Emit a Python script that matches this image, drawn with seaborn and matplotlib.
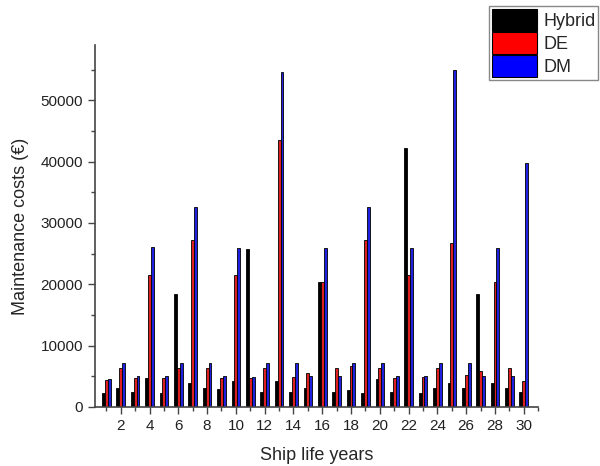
import pandas as pd
import numpy as np
import matplotlib
matplotlib.use("Agg")
import matplotlib.pyplot as plt
import seaborn as sns
from matplotlib.ticker import MultipleLocator

years = list(range(1, 31))
hybrid = [2230, 3040, 2390, 4670, 2230, 18400, 3900, 3040, 2930, 4180,
          25680, 2390, 4290, 2390, 3040, 20300, 2390, 2710, 2280, 4560,
          2390, 42230, 2280, 3040, 3900, 3040, 18400, 3900, 3040, 2340]
de = [4400, 6400, 4670, 21550, 4720, 6350, 27200, 6400, 4720, 21500,
      4670, 6400, 43500, 4940, 5590, 20300, 6400, 6680, 27200, 6400,
      4720, 21500, 4830, 6400, 26650, 5160, 5810, 20300, 6350, 4180]
dm = [4560, 7170, 5100, 26000, 5100, 7170, 32600, 7170, 5100, 25850,
      4940, 7170, 54600, 7170, 5100, 25950, 5100, 7170, 32600, 7170,
      5100, 25850, 4990, 7170, 55000, 7170, 5100, 25950, 5050, 39800]

df = pd.DataFrame({"year": years * 3,
                   "cost": hybrid + de + dm,
                   "type": ["Hybrid"] * 30 + ["DE"] * 30 + ["DM"] * 30})

sns.set_style("white")
plt.rcParams['font.family'] = ['Liberation Sans', 'DejaVu Sans']

fig = plt.figure(figsize=(6, 4.66), dpi=100)
ax = fig.add_axes([0.158, 0.127, 0.739, 0.776])
sns.barplot(data=df, x="year", y="cost", hue="type", native_scale=True,
            palette=["#000000", "#ff0000", "#0000ff"], width=0.6,
            edgecolor="black", linewidth=0.6, ax=ax, legend=False)

ax.set_xlim(0.2, 31)
ax.set_ylim(0, 59000)
ax.set_xticks(range(2, 31, 2))
ax.xaxis.set_minor_locator(MultipleLocator(1))
ax.yaxis.set_major_locator(MultipleLocator(10000))
ax.yaxis.set_minor_locator(MultipleLocator(5000))
ax.tick_params(which="both", direction="out", color="#444444", labelsize=11,
               labelcolor="#222222", bottom=True, left=True)
ax.tick_params(which="major", length=5, width=1)
ax.tick_params(which="minor", length=3, width=1)
for s in ["top", "right"]:
    ax.spines[s].set_visible(False)
for s in ["left", "bottom"]:
    ax.spines[s].set_color("#444444")
    ax.spines[s].set_linewidth(1.2)

ax.set_xlabel("Ship life years", fontsize=13, labelpad=10)
ax.set_ylabel("Maintenance costs (€)", fontsize=13, labelpad=8)

handles = [plt.Rectangle((0, 0), 1, 1, facecolor=c, edgecolor="black", linewidth=0.8)
           for c in ["#000000", "#ff0000", "#0000ff"]]
leg = fig.legend(handles, ["Hybrid", "DE", "DM"], loc="upper right",
                 bbox_to_anchor=(1.0, 0.99), fontsize=13, fancybox=False,
                 framealpha=1, edgecolor="#888888", handlelength=2.5,
                 handleheight=1.5, handletextpad=0.35, labelspacing=0.05,
                 borderpad=0.15, borderaxespad=0.1)

fig.savefig("out.png", dpi=100)
